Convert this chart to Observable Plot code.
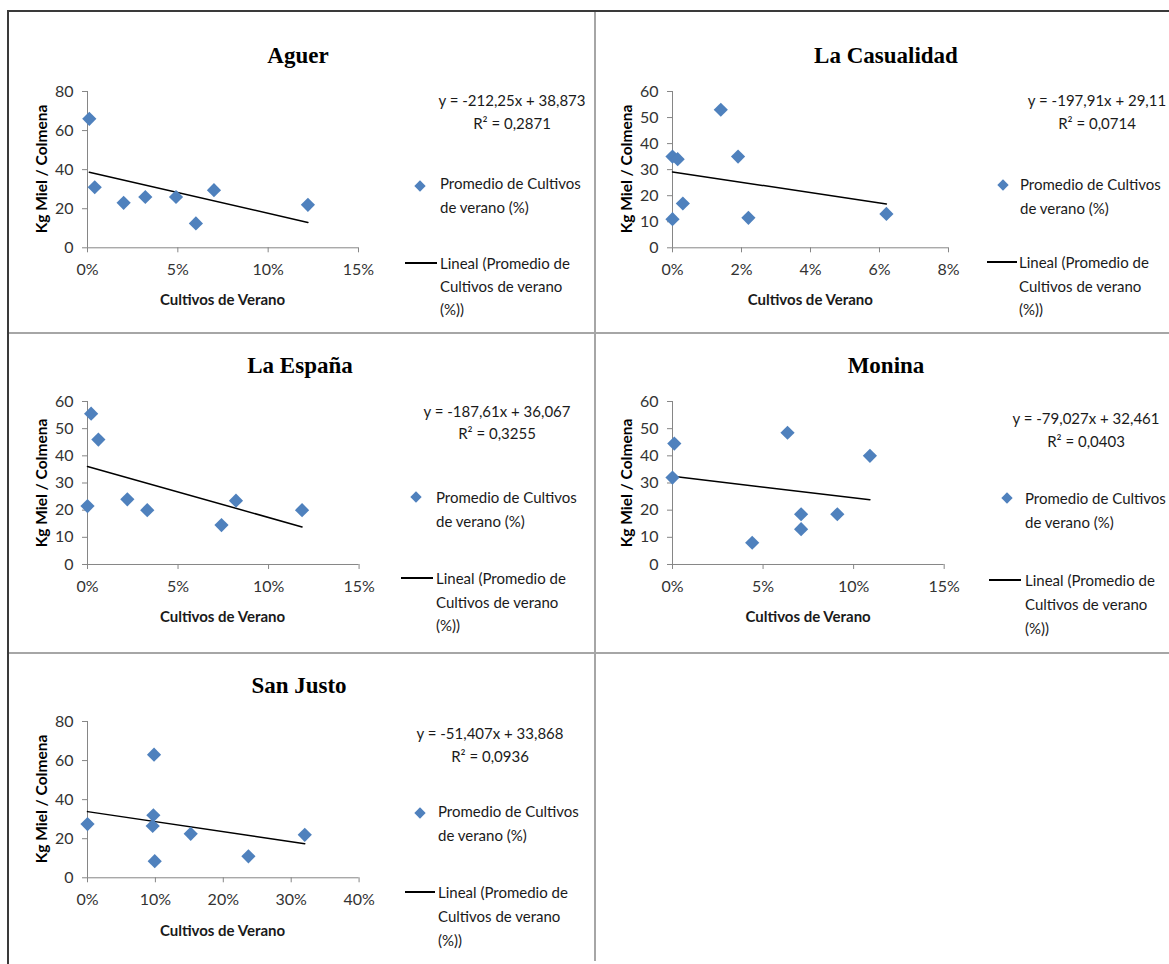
<!DOCTYPE html>
<html><head><meta charset="utf-8">
<script src="https://cdn.jsdelivr.net/npm/d3@7"></script>
<script src="https://cdn.jsdelivr.net/npm/@observablehq/plot@0.6"></script>
<style>
body{margin:0;background:#fff}
#root{position:relative;width:1169px;height:964px;overflow:hidden;background:#fff}
.t{position:absolute;white-space:nowrap;line-height:1}
.plot{position:absolute}
</style></head>
<body><div id="root"></div>
<script>
// ---- data ----
const places = ["Aguer", "La Casualidad", "La España", "Monina", "San Justo"];
const aguerX = [0.001, 0.004, 0.020, 0.032, 0.049, 0.060, 0.070, 0.122];
const aguerY = [66, 31, 23, 26, 26, 12.5, 29.5, 22];
const casualidadX = [0, 0.0015, 0.003, 0, 0.014, 0.019, 0.022, 0.062];
const casualidadY = [35, 34, 17, 11, 53, 35, 11.5, 13];
const espanaX = [0, 0.002, 0.006, 0.022, 0.033, 0.074, 0.082, 0.1185];
const espanaY = [21.5, 55.5, 46, 24, 20, 14.5, 23.5, 20];
const moninaX = [0, 0.001, 0.044, 0.0635, 0.071, 0.071, 0.091, 0.109];
const moninaY = [32, 44.5, 8, 48.5, 18.5, 13, 18.5, 40];
const sanJustoX = [0, 0.098, 0.097, 0.096, 0.099, 0.152, 0.237, 0.320];
const sanJustoY = [27.5, 63, 32, 26.5, 8.5, 22.5, 11, 22];
const slopes = [-212.25, -197.91, -187.61, -79.027, -51.407];
const intercepts = [38.873, 29.11, 36.067, 32.461, 33.868];
const equations = ["y = -212,25x + 38,873", "y = -197,91x + 29,11", "y = -187,61x + 36,067", "y = -79,027x + 32,461", "y = -51,407x + 33,868"];
const r2Labels = ["R² = 0,2871", "R² = 0,0714", "R² = 0,3255", "R² = 0,0403", "R² = 0,0936"];
const xTicks = [[0, 0.05, 0.10, 0.15], [0, 0.02, 0.04, 0.06, 0.08], [0, 0.05, 0.10, 0.15], [0, 0.05, 0.10, 0.15], [0, 0.10, 0.20, 0.30, 0.40]];
const yTicks = [[0, 20, 40, 60, 80], [0, 10, 20, 30, 40, 50, 60], [0, 10, 20, 30, 40, 50, 60], [0, 10, 20, 30, 40, 50, 60], [0, 20, 40, 60, 80]];
const xTitle = "Cultivos de Verano";
const yTitle = "Kg Miel / Colmena";
const legendPoint = ["Promedio de Cultivos", "de verano (%)"];
const legendLine = ["Lineal (Promedio de", "Cultivos de verano", "(%))"];
const seriesX = [aguerX, casualidadX, espanaX, moninaX, sanJustoX];
const seriesY = [aguerY, casualidadY, espanaY, moninaY, sanJustoY];

// ---- layout ----
const geo = [
 {x0:87, x1:358, yT:91, yB:247.3, title:[298,55], eq:[512,100,123], dia:[420,186], leg1:[440,183,207], line:[405,437,263], leg2:[440,263,286,309], ylab:42, xlab:299},
 {x0:672.3, x1:948.3, yT:91, yB:247.3, title:[886,55], eq:[1097,100,123], dia:[1003,185], leg1:[1020,184,208], line:[987,1017,262], leg2:[1019,262,286,309], ylab:627, xlab:299},
 {x0:86.7, x1:358.3, yT:401, yB:564, title:[300,365], eq:[497,411,433], dia:[416,497], leg1:[436,497,521], line:[401,433,578], leg2:[436,578,602,625], ylab:42, xlab:616},
 {x0:672.3, x1:944, yT:401, yB:564, title:[886,365], eq:[1086,418,441], dia:[1007,498], leg1:[1025,498,522], line:[989,1021,580], leg2:[1025,580,604,628], ylab:627, xlab:616},
 {x0:86.7, x1:358.3, yT:721, yB:877.3, title:[299,685], eq:[490,733,756], dia:[420,813], leg1:[438,811,835], line:[405,435,892], leg2:[438,892,916,940], ylab:42, xlab:930}
];
const root = document.getElementById("root");
const SANS = "Lato, 'Open Sans', sans-serif";

function text(str, x, y, o = {}) {
  const d = document.createElement("div");
  d.className = "t";
  d.textContent = str;
  d.style.left = x + "px";
  d.style.top = y + "px";
  d.style.fontFamily = o.font || SANS;
  d.style.fontSize = (o.size || 15) + "px";
  d.style.fontWeight = o.weight || "normal";
  d.style.color = o.color || "#1a1a1a";
  const ax = o.anchor === "start" ? "0" : "-50%";
  d.style.transform = `translate(${ax},-50%)` + (o.rotate ? ` rotate(${o.rotate}deg)` : "");
  root.appendChild(d);
  return d;
}
function box(x, y, w, h, color) {
  const d = document.createElement("div");
  d.style.cssText = `position:absolute;left:${x}px;top:${y}px;width:${w}px;height:${h}px;background:${color}`;
  root.appendChild(d);
}

// frame lines
box(7, 10, 1162, 2, "#3a3a3a");
box(7, 10, 2, 954, "#3a3a3a");
box(594, 12, 2, 949, "#a6a6a6");
box(9, 332, 1160, 2, "#a6a6a6");
box(9, 652, 1160, 2, "#a6a6a6");

const ML = 50, MR = 24, MT = 14, MB = 30;
places.forEach((name, i) => {
  const g = geo[i];
  const pts = seriesX[i].map((x, j) => ({x, y: seriesY[i][j]}));
  const [xmin, xmax] = d3.extent(seriesX[i]);
  const trend = [xmin, xmax].map(x => ({x, y: intercepts[i] + slopes[i] * x}));
  const xd = xTicks[i], yd = yTicks[i];
  const chart = Plot.plot({
    width: ML + (g.x1 - g.x0) + MR,
    height: MT + (g.yB - g.yT) + MB,
    marginLeft: ML, marginRight: MR, marginTop: MT, marginBottom: MB,
    style: {fontFamily: SANS, fontSize: "16px", background: "transparent", overflow: "visible"},
    x: {domain: [xd[0], xd[xd.length - 1]]},
    y: {domain: [yd[0], yd[yd.length - 1]]},
    marks: [
      Plot.axisX({ticks: xd, tickFormat: d3.format(".0%"), tickSize: 5, tickPadding: 11, stroke: "#868686", fill: "#333", label: null}),
      Plot.axisY({ticks: yd, tickFormat: d3.format("d"), tickSize: 5, tickPadding: 9, stroke: "#868686", fill: "#333", label: null}),
      Plot.ruleX([xd[0]], {stroke: "#868686"}),
      Plot.ruleY([yd[0]], {stroke: "#868686"}),
      Plot.line(trend, {x: "x", y: "y", stroke: "#000", strokeWidth: 1.5}),
      Plot.dot(pts, {x: "x", y: "y", symbol: "diamond2", r: 6.4, fill: "#4F81BD", stroke: "none"})
    ]
  });
  chart.classList.add("plot");
  chart.style.left = (g.x0 - ML) + "px";
  chart.style.top = (g.yT - MT) + "px";
  root.appendChild(chart);

  text(name, g.title[0], g.title[1], {font: "'Liberation Serif', 'Times New Roman', serif", size: 23, weight: "bold", color: "#000"});
  text(xTitle, (g.x0 + g.x1) / 2, g.xlab, {size: 15, weight: "bold", color: "#1a1a1a"});
  text(yTitle, g.ylab, (g.yT + g.yB) / 2, {size: 15.5, weight: "bold", color: "#000", rotate: -90});
  text(equations[i], g.eq[0], g.eq[1], {size: 15});
  text(r2Labels[i], g.eq[0], g.eq[2], {size: 15});
  // legend
  const dm = document.createElement("div");
  dm.style.cssText = `position:absolute;left:${g.dia[0] - 4}px;top:${g.dia[1] - 4}px;width:8px;height:8px;background:#4F81BD;transform:rotate(45deg)`;
  root.appendChild(dm);
  text(legendPoint[0], g.leg1[0], g.leg1[1], {anchor: "start"});
  text(legendPoint[1], g.leg1[0], g.leg1[2], {anchor: "start"});
  box(g.line[0], g.line[2] - 0.75, g.line[1] - g.line[0], 1.5, "#000");
  legendLine.forEach((s, k) => text(s, g.leg2[0], g.leg2[k + 1], {anchor: "start"}));
});
</script>
</body></html>
